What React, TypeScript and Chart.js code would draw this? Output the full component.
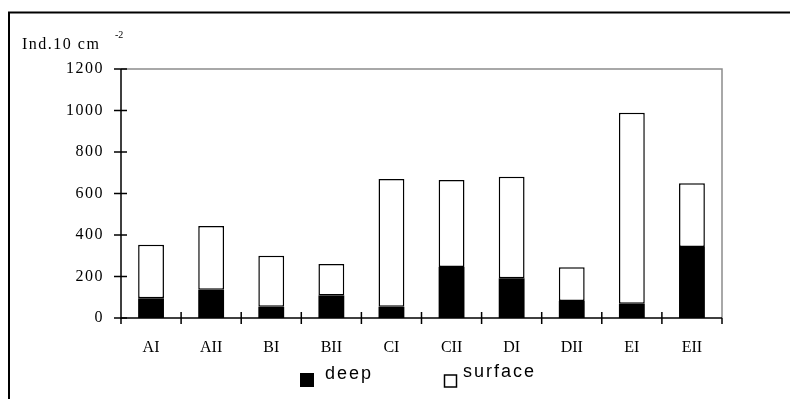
import React, { useEffect, useRef } from 'react';
import { Chart, registerables } from 'chart.js';

Chart.register(...registerables);

const categories = ['AI', 'AII', 'BI', 'BII', 'CI', 'CII', 'DI', 'DII', 'EI', 'EII'];
const deepValues = [95, 136, 54, 109, 54, 246, 191, 82, 69, 342];
const surfaceValues = [258, 307, 246, 151, 616, 419, 490, 162, 920, 308];
const seriesNames = ['deep', 'surface'];
const yMin = 0;
const yMax = 1200;
const yStep = 200;
const yTitle = 'Ind.10 cm';
const yTitleSup = '-2';

const SERIF = '"Liberation Serif", "Times New Roman", serif';
const SANS = '"Liberation Sans", Arial, sans-serif';

export default function App() {
  const ref = useRef<HTMLCanvasElement>(null);

  useEffect(() => {
    const canvas = ref.current;
    if (!canvas) return;

    const decor = {
      id: 'decor',
      beforeDraw(chart: any) {
        (chart.ctx as any).letterSpacing = '1.5px';
      },
      beforeDatasetsDraw(chart: any) {
        (chart.ctx as any).letterSpacing = '0px';
      },
      afterDraw(chart: any) {
        const ctx = chart.ctx as CanvasRenderingContext2D;
        const { left, right, top, bottom } = chart.chartArea;
        const xs = chart.scales.x;
        const ys = chart.scales.y;
        ctx.save();
        (ctx as any).letterSpacing = '0px';
        // outer frame (top + left)
        ctx.strokeStyle = '#000';
        ctx.lineWidth = 2;
        ctx.beginPath();
        ctx.moveTo(9, chart.height + 2);
        ctx.lineTo(9, 12.5);
        ctx.lineTo(chart.width + 2, 12.5);
        ctx.stroke();

        // gray plot border top/right
        ctx.strokeStyle = '#8c8c8c';
        ctx.lineWidth = 1.5;
        ctx.beginPath();
        ctx.moveTo(left, top);
        ctx.lineTo(right, top);
        ctx.lineTo(right, bottom);
        ctx.stroke();

        // axes
        ctx.strokeStyle = '#000';
        ctx.lineWidth = 1.5;
        ctx.beginPath();
        ctx.moveTo(left, top);
        ctx.lineTo(left, bottom);
        ctx.lineTo(right, bottom);
        ctx.stroke();

        // y ticks (crossing)
        ctx.beginPath();
        for (let v = yMin; v <= yMax; v += yStep) {
          const y = ys.getPixelForValue(v);
          ctx.moveTo(left - 7, y);
          ctx.lineTo(left + 6, y);
        }
        // x ticks at category boundaries
        const n = categories.length;
        const w = (right - left) / n;
        for (let i = 0; i <= n; i++) {
          const x = i === n ? right : xs.getPixelForValue(i) - w / 2;
          ctx.moveTo(x, i === 0 || i === n ? bottom : bottom - 6);
          ctx.lineTo(x, bottom + 6);
        }
        ctx.stroke();

        // y title
        ctx.fillStyle = '#000';
        ctx.textBaseline = 'alphabetic';
        ctx.textAlign = 'left';
        ctx.font = `16px ${SERIF}`;
        (ctx as any).letterSpacing = '1.5px';
        ctx.fillText(yTitle, 22, 49);
        ctx.font = `10px ${SERIF}`;
        (ctx as any).letterSpacing = '0px';
        ctx.fillText(yTitleSup, 115, 38);

        // legend
        const ds = chart.data.datasets;
        ctx.font = `18px ${SANS}`;
        (ctx as any).letterSpacing = '2px';
        ctx.fillStyle = ds[0].backgroundColor;
        ctx.fillRect(300, 373, 14, 14);
        ctx.fillStyle = '#000';
        ctx.fillText(ds[0].label, 325, 379);
        ctx.fillStyle = ds[1].backgroundColor;
        ctx.fillRect(444.5, 375, 12, 12);
        ctx.strokeStyle = '#000';
        ctx.lineWidth = 1.5;
        ctx.strokeRect(444.5, 375, 12, 12);
        ctx.fillStyle = '#000';
        ctx.fillText(ds[1].label, 463, 377);
        ctx.restore();
      },
    };

    const chart = new Chart(canvas, {
      type: 'bar',
      data: {
        labels: categories,
        datasets: [
          {
            label: seriesNames[0],
            data: deepValues,
            backgroundColor: '#000000',
            borderColor: '#000000',
            borderWidth: 0,
            categoryPercentage: 1,
            barPercentage: 0.43,
          },
          {
            label: seriesNames[1],
            data: surfaceValues,
            backgroundColor: '#ffffff',
            borderColor: '#000000',
            borderWidth: 1.5,
            borderSkipped: false,
            categoryPercentage: 1,
            barPercentage: 0.43,
          },
        ],
      },
      options: {
        animation: false,
        responsive: false,
        maintainAspectRatio: false,
        devicePixelRatio: 1,
        layout: { padding: { top: 69, right: 68, left: 0, bottom: 0 } },
        plugins: {
          legend: { display: false },
          tooltip: { enabled: false },
          title: { display: false },
        },
        scales: {
          x: {
            stacked: true,
            grid: { display: false, drawTicks: false, z: 1 },
            border: { display: false, z: 1 },
            ticks: {
              z: 1,
              color: '#000',
              font: { family: SERIF, size: 16 },
              padding: 20,
              maxRotation: 0,
              autoSkip: false,
            },
            afterFit: (s: any) => { s.height = 81; },
          },
          y: {
            stacked: true,
            min: yMin,
            max: yMax,
            grid: { display: false, drawTicks: false },
            border: { display: false },
            ticks: {
              stepSize: yStep,
              color: '#000',
              font: { family: SERIF, size: 16 },
              padding: 17,
              callback: (v: any) => String(v),
            },
            afterFit: (s: any) => { s.width = 121; },
          },
        },
      },
      plugins: [decor],
    });
    return () => chart.destroy();
  }, []);

  return (
    <div style={{ position: 'fixed', left: 0, top: 0, width: 790, height: 399, background: '#fff' }}>
      <canvas ref={ref} width={790} height={399} style={{ width: 790, height: 399, display: 'block' }} />
    </div>
  );
}
